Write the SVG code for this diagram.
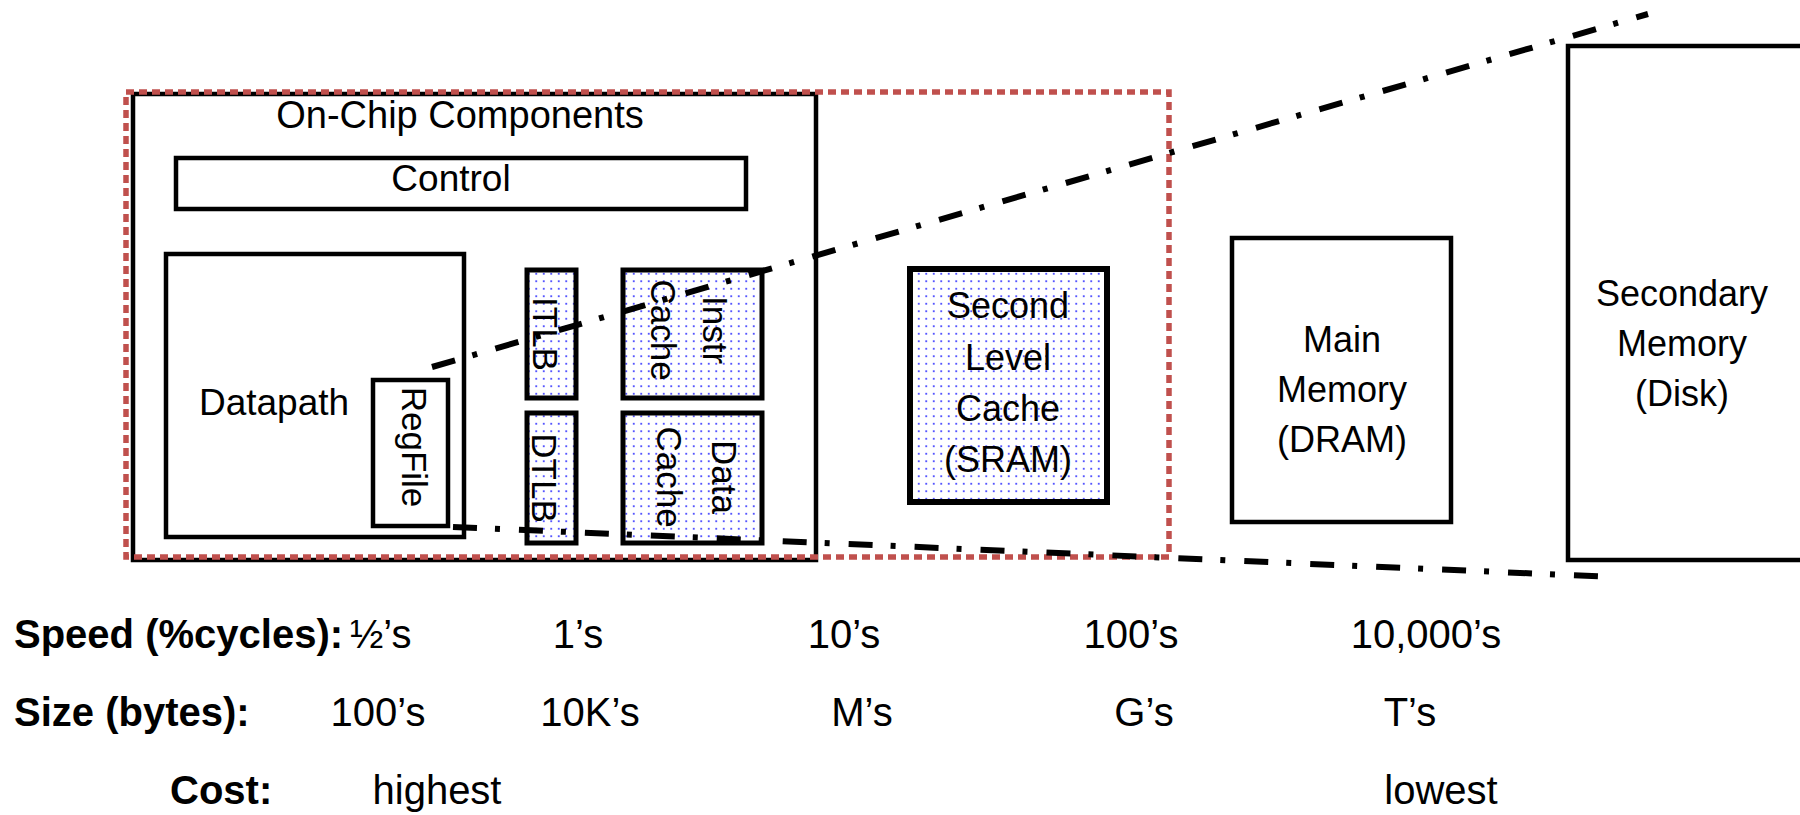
<svg xmlns="http://www.w3.org/2000/svg" width="1800" height="815" viewBox="0 0 1800 815">
<defs>
<pattern id="dots" x="0" y="0" width="7.5" height="7.5" patternUnits="userSpaceOnUse">
<rect width="7.5" height="7.5" fill="#ffffff"/>
<circle cx="3.75" cy="3.75" r="1" fill="#2b2bff"/>
</pattern>
<style>
.box{fill:#ffffff;stroke:#000000;stroke-width:4.5}
.dot{fill:url(#dots);stroke:#000000;stroke-width:5}
.lbl{font-family:"Liberation Sans",Arial,sans-serif;font-size:36px;fill:#000000;text-anchor:middle}
.rot{font-family:"Liberation Sans",Arial,sans-serif;font-size:35px;fill:#000000;text-anchor:middle}
.row{font-family:"Liberation Sans",Arial,sans-serif;font-size:40px;fill:#000000}
.bold{font-weight:bold}
.mid{text-anchor:middle}
.dashdot{fill:none;stroke:#000000;stroke-width:6;stroke-dasharray:24 18 5 19}
</style>
</defs>
<rect width="1800" height="815" fill="#ffffff"/>

<g id="on-chip">
<rect class="box" x="133" y="94" width="683" height="466"/>
<text class="lbl" x="460" y="128" style="font-size:38px">On-Chip Components</text>
</g>

<g id="control">
<rect class="box" x="176" y="158" width="570" height="51"/>
<text class="lbl" x="451" y="191" style="font-size:37px">Control</text>
</g>

<g id="datapath">
<rect class="box" x="166" y="254" width="298" height="283"/>
<text class="lbl" x="274" y="415" style="font-size:37px">Datapath</text>
</g>

<g id="regfile">
<rect class="box" x="373" y="380" width="75" height="146"/>
<text class="rot" transform="translate(402,447) rotate(90)">RegFile</text>
</g>

<g id="itlb">
<rect class="dot" x="527" y="270" width="49" height="128"/>
<text class="rot" transform="translate(533,334) rotate(90)">ITLB</text>
</g>

<g id="dtlb">
<rect class="dot" x="527" y="413" width="49" height="130"/>
<text class="rot" transform="translate(532,478) rotate(90)">DTLB</text>
</g>

<g id="instr-cache">
<rect class="dot" x="623" y="270" width="139" height="128"/>
<text class="rot" transform="translate(703,330) rotate(90)">Instr</text>
<text class="rot" transform="translate(651,330) rotate(90)">Cache</text>
</g>

<g id="data-cache">
<rect class="dot" x="623" y="413" width="139" height="130"/>
<text class="rot" transform="translate(712,477) rotate(90)">Data</text>
<text class="rot" transform="translate(657,477) rotate(90)">Cache</text>
</g>

<g id="second-level-cache">
<rect class="dot" x="910" y="269" width="197" height="233" style="stroke-width:6"/>
<text class="lbl" x="1008" y="318">Second</text>
<text class="lbl" x="1008" y="370">Level</text>
<text class="lbl" x="1008" y="421">Cache</text>
<text class="lbl" x="1008" y="472">(SRAM)</text>
</g>

<g id="main-memory">
<rect class="box" x="1232" y="238" width="219" height="284"/>
<text class="lbl" x="1342" y="352">Main</text>
<text class="lbl" x="1342" y="402">Memory</text>
<text class="lbl" x="1342" y="452">(DRAM)</text>
</g>

<g id="secondary-memory">
<rect class="box" x="1568" y="46" width="300" height="514"/>
<text class="lbl" x="1682" y="306">Secondary</text>
<text class="lbl" x="1682" y="356">Memory</text>
<text class="lbl" x="1682" y="406">(Disk)</text>
</g>

<g id="on-chip-boundary">
<rect x="126" y="92" width="1043" height="465" fill="none" stroke="#c0504d" stroke-width="5.5" stroke-dasharray="8 5"/>
</g>

<g id="connectors">
<line class="dashdot" x1="432" y1="367" x2="1648" y2="14"/>
<line class="dashdot" x1="453" y1="527" x2="1615" y2="577"/>
</g>

<g id="metrics">
<text class="row bold" x="14" y="648">Speed (%cycles):</text>
<text class="row" x="350" y="648">½’s</text>
<text class="row mid" x="578" y="648">1’s</text>
<text class="row mid" x="844" y="648">10’s</text>
<text class="row mid" x="1131" y="648">100’s</text>
<text class="row mid" x="1426" y="648">10,000’s</text>
<text class="row bold" x="14" y="726">Size (bytes):</text>
<text class="row mid" x="378" y="726">100’s</text>
<text class="row mid" x="590" y="726">10K’s</text>
<text class="row mid" x="862" y="726">M’s</text>
<text class="row mid" x="1144" y="726">G’s</text>
<text class="row mid" x="1410" y="726">T’s</text>
<text class="row bold" x="170" y="804">Cost:</text>
<text class="row mid" x="437" y="804">highest</text>
<text class="row mid" x="1441" y="804">lowest</text>
</g>
</svg>
